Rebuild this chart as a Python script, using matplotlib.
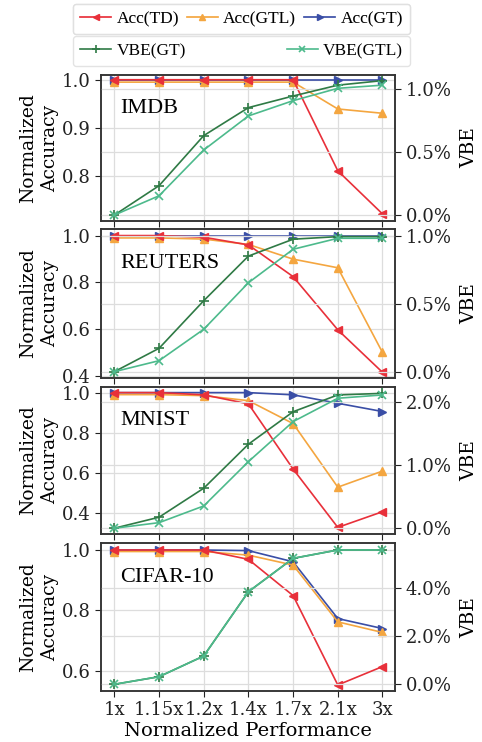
import numpy as np
import matplotlib
matplotlib.use("Agg")
import matplotlib.pyplot as plt
from matplotlib.ticker import FuncFormatter

plt.rcParams['font.family'] = ['DejaVu Serif']

# x categories
perf = ['1x', '1.15x', '1.2x', '1.4x', '1.7x', '2.1x', '3x']

# IMDB
imdb_td = [1.0, 1.0, 1.0, 1.0, 1.0, 0.81, 0.72]
imdb_gtl = [0.995, 0.995, 0.995, 0.995, 0.995, 0.939, 0.930]
imdb_gt = [1.0, 1.0, 1.0, 1.0, 1.0, 1.0, 1.0]
imdb_vbe_gt = [0.0, 0.233, 0.63, 0.852, 0.944, 1.03, 1.066]
imdb_vbe_gtl = [0.0, 0.153, 0.516, 0.786, 0.907, 1.005, 1.03]

# REUTERS
reu_td = [1.0, 1.0, 0.993, 0.96, 0.824, 0.596, 0.414]
reu_gtl = [0.99, 0.99, 0.985, 0.962, 0.899, 0.862, 0.499]
reu_gt = [1.0, 1.0, 1.0, 1.0, 1.0, 1.0, 1.0]
reu_vbe_gt = [0.0, 0.172, 0.522, 0.85, 0.974, 0.993, 0.993]
reu_vbe_gtl = [0.0, 0.081, 0.312, 0.654, 0.9, 0.981, 0.981]

# MNIST
mn_td = [1.0, 1.0, 0.989, 0.944, 0.62, 0.33, 0.408]
mn_gtl = [0.99, 0.99, 0.985, 0.96, 0.846, 0.53, 0.61]
mn_gt = [1.0, 1.0, 1.0, 1.0, 0.989, 0.947, 0.906]
mn_vbe_gt = [0.0, 0.174, 0.632, 1.327, 1.84, 2.105, 2.13]
mn_vbe_gtl = [0.0, 0.088, 0.352, 1.052, 1.684, 2.053, 2.105]

# CIFAR-10
cf_td = [1.0, 1.0, 1.0, 0.969, 0.849, 0.553, 0.614]
cf_gtl = [0.995, 0.995, 0.995, 0.983, 0.95, 0.762, 0.727]
cf_gt = [1.0, 1.0, 1.0, 0.998, 0.961, 0.773, 0.74]
cf_vbe_gt = [0.0, 0.317, 1.18, 3.86, 5.25, 5.6, 5.6]
cf_vbe_gtl = [0.0, 0.317, 1.18, 3.86, 5.25, 5.6, 5.6]

panels = [
    ('IMDB', imdb_td, imdb_gtl, imdb_gt, imdb_vbe_gt, imdb_vbe_gtl,
     (0.705, 1.01), [0.8, 0.9, 1.0], (-0.048, 1.111), [0.0, 0.5, 1.0]),
    ('REUTERS', reu_td, reu_gtl, reu_gt, reu_vbe_gt, reu_vbe_gtl,
     (0.391, 1.027), [0.4, 0.6, 0.8, 1.0], (-0.044, 1.047), [0.0, 0.5, 1.0]),
    ('MNIST', mn_td, mn_gtl, mn_gt, mn_vbe_gt, mn_vbe_gtl,
     (0.296, 1.03), [0.4, 0.6, 0.8, 1.0], (-0.095, 2.237), [0.0, 1.0, 2.0]),
    ('CIFAR-10', cf_td, cf_gtl, cf_gt, cf_vbe_gt, cf_vbe_gtl,
     (0.533, 1.022), [0.6, 0.8, 1.0], (-0.28, 5.875), [0.0, 2.0, 4.0]),
]

c_td = '#e8303a'
c_gtl = '#f4a640'
c_gt = '#3a4ea6'
c_vgt = '#2f7a45'
c_vgtl = '#4dba8c'

fig = plt.figure(figsize=(4.82, 7.42), dpi=100)
x = np.arange(len(perf))
boxes = [(0.702, 0.197), (0.491, 0.200), (0.280, 0.199), (0.0687, 0.199)]
left, width = 0.2095, 0.61

for i, (name, td, gtl, gt, vgt, vgtl, ylim, yt, ylim2, yt2) in enumerate(panels):
    b, h = boxes[i]
    ax = fig.add_axes([left, b, width, h])
    ax2 = ax.twinx()
    ax.grid(True, color='#dddddd', lw=0.9)
    ax2.grid(True, axis='y', color='#dddddd', lw=0.9)
    ax.set_axisbelow(True)
    ax2.set_axisbelow(True)
    l1, = ax.plot(x, td, color=c_td, marker='<', ms=6, lw=1.2, label='Acc(TD)', zorder=4)
    l2, = ax.plot(x, gtl, color=c_gtl, marker='^', ms=6, lw=1.2, label='Acc(GTL)', zorder=3)
    l3, = ax.plot(x, gt, color=c_gt, marker='>', ms=6, lw=1.2, label='Acc(GT)', zorder=2)
    l4, = ax2.plot(x, vgt, color=c_vgt, marker='+', ms=7, mew=1.2, lw=1.2, label='VBE(GT)')
    l5, = ax2.plot(x, vgtl, color=c_vgtl, marker='x', ms=6, mew=1.2, lw=1.2, label='VBE(GTL)')
    ax.set_xlim(-0.3, 6.28)
    ax.set_ylim(*ylim)
    ax.set_yticks(yt)
    ax.set_yticklabels(['%.1f' % v for v in yt])
    ax2.set_ylim(*ylim2)
    ax2.set_yticks(yt2)
    ax2.yaxis.set_major_formatter(FuncFormatter(lambda v, p: '%.1f%%' % v))
    ax.set_xticks(x)
    if i == 3:
        ax.set_xticklabels(perf)
        ax.set_xlabel('Normalized Performance', fontsize=14, labelpad=2)
    else:
        ax.set_xticklabels([])
    ax.tick_params(labelsize=13, colors='#222222', length=4)
    ax2.tick_params(labelsize=13, colors='#222222', length=4)
    for a in (ax, ax2):
        for s in a.spines.values():
            s.set_color('#333333')
            s.set_linewidth(1.1)
    ax.set_ylabel('Normalized\nAccuracy', fontsize=13.5, linespacing=1.25, labelpad=2)
    ax2.set_ylabel('VBE', fontsize=13.5, labelpad=6)
    ax2.text(0.065, 0.77, name, transform=ax.transAxes, fontsize=16,
             family='Liberation Serif', ha='left', va='center', zorder=10)
    if i == 0:
        acc_handles = [l1, l2, l3]
        vbe_handles = [l4, l5]

leg_font = {'family': 'Liberation Serif', 'size': 12.5}
leg1 = fig.legend(handles=acc_handles, loc='lower left', mode='expand', ncol=3,
                  bbox_to_anchor=(73 / 482, (742 - 34) / 742, 337 / 482, 30 / 742),
                  prop=leg_font, handlelength=1.8, handletextpad=0.3, borderaxespad=0,
                  columnspacing=0.5, markerscale=0.8, frameon=True,
                  edgecolor='#dddddd', fancybox=True)
leg2 = fig.legend(handles=vbe_handles, loc='lower left', mode='expand', ncol=2,
                  bbox_to_anchor=(73 / 482, (742 - 66) / 742, 337 / 482, 30 / 742),
                  prop=leg_font, handlelength=1.8, handletextpad=0.3, borderaxespad=0,
                  markerscale=0.8, frameon=True, edgecolor='#dddddd', fancybox=True)
fig.add_artist(leg1)

fig.savefig('out.png', dpi=100)
